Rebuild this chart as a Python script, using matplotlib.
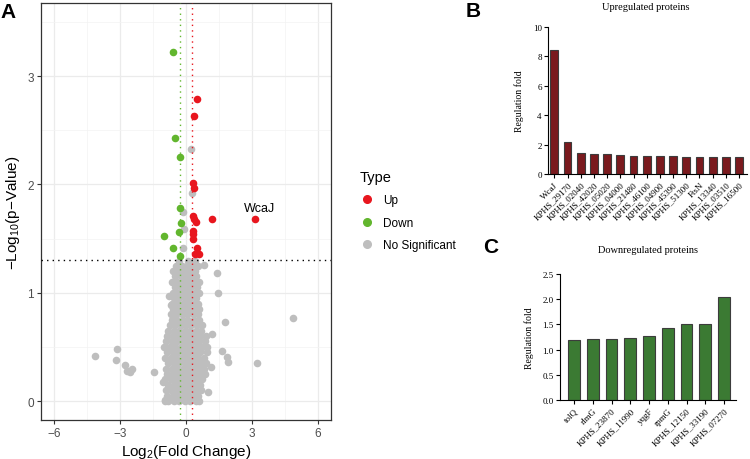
import numpy as np
import matplotlib
matplotlib.use('Agg')
import matplotlib.pyplot as plt
from matplotlib.lines import Line2D

plt.rcParams['font.family'] = ['Liberation Sans', 'DejaVu Sans']
plt.rcParams['mathtext.default'] = 'regular'

# Volcano: significant points
up_x = [0.48, 0.35, 0.32, 0.38, 0.32, 0.38, 0.45, 1.17, 3.12, 0.30, 0.30, 0.30, 0.52, 0.41, 0.58]
up_y = [2.79, 2.63, 2.01, 1.97, 1.71, 1.68, 1.65, 1.68, 1.68, 1.57, 1.54, 1.50, 1.41, 1.36, 1.36]
down_x = [-0.58, -0.50, -0.26, -0.26, -0.23, -0.32, -1.02, -0.58, -0.27]
down_y = [3.22, 2.43, 2.25, 1.78, 1.64, 1.56, 1.52, 1.41, 1.34]

# Volcano: non-significant outliers
ns_out_x = [0.21, 0.26, -0.15, -0.08, -0.15, 0.82, 1.41, 1.47, 1.79, 4.89, 1.18, 3.23, 1.89, 1.85,
            1.62, 1.15, 1.00, -4.12, -3.12, -3.20, -2.77, -2.70, -2.44, -2.55, -1.45, -0.76,
            -0.70, -0.60, -0.92, -1.06, -0.95, -0.80]
ns_out_y = [2.33, 1.92, 1.75, 1.59, 1.41, 1.26, 1.18, 1.00, 0.73, 0.77, 0.62, 0.35, 0.36, 0.41,
            0.46, 0.31, 0.08, 0.42, 0.48, 0.38, 0.33, 0.28, 0.30, 0.27, 0.27, 0.97,
            0.89, 0.77, 0.49, 0.18, 0.01, 0.01]

# Volcano: dense non-significant cloud, read row by row (y, x positions)
ns_rows = [
    (0.00, [-0.95, -0.8, -0.55, -0.3, -0.05, 0.2, 0.45, 0.6]),
    (0.05, [-0.85, -0.6, -0.35, -0.1, 0.15, 0.4, 0.55]),
    (0.10, [-0.9, -0.7, -0.45, -0.2, 0.05, 0.3, 0.55, 0.7]),
    (0.15, [-0.8, -0.55, -0.3, -0.05, 0.2, 0.45, 0.65]),
    (0.20, [-0.95, -0.7, -0.45, -0.2, 0.05, 0.3, 0.55, 0.75]),
    (0.25, [-0.85, -0.6, -0.35, -0.1, 0.15, 0.4, 0.65, 0.85]),
    (0.30, [-0.9, -0.65, -0.4, -0.15, 0.1, 0.35, 0.6, 0.8]),
    (0.35, [-0.8, -0.55, -0.3, -0.05, 0.2, 0.45, 0.7, 0.9]),
    (0.40, [-0.95, -0.7, -0.45, -0.2, 0.05, 0.3, 0.55, 0.8]),
    (0.45, [-0.85, -0.6, -0.35, -0.1, 0.15, 0.4, 0.65, 0.95]),
    (0.50, [-1.0, -0.75, -0.5, -0.25, 0.0, 0.25, 0.5, 0.75, 0.95]),
    (0.55, [-0.9, -0.65, -0.4, -0.15, 0.1, 0.35, 0.6, 0.85]),
    (0.60, [-0.85, -0.6, -0.35, -0.1, 0.15, 0.4, 0.65, 0.9]),
    (0.65, [-0.8, -0.55, -0.3, -0.05, 0.2, 0.45, 0.7]),
    (0.70, [-0.75, -0.5, -0.25, 0.0, 0.25, 0.5, 0.75]),
    (0.75, [-0.65, -0.4, -0.15, 0.1, 0.35, 0.6]),
    (0.80, [-0.7, -0.45, -0.2, 0.05, 0.3, 0.55]),
    (0.85, [-0.6, -0.35, -0.1, 0.15, 0.4, 0.6]),
    (0.90, [-0.65, -0.4, -0.15, 0.1, 0.35, 0.55]),
    (0.95, [-0.55, -0.3, -0.05, 0.2, 0.45]),
    (1.00, [-0.6, -0.35, -0.1, 0.15, 0.4, 0.6]),
    (1.05, [-0.5, -0.25, 0.0, 0.25, 0.5]),
    (1.10, [-0.65, -0.4, -0.15, 0.1, 0.35, 0.6]),
    (1.15, [-0.5, -0.25, 0.0, 0.25, 0.45]),
    (1.20, [-0.6, -0.35, -0.1, 0.15, 0.4]),
    (1.25, [-0.45, -0.2, 0.05, 0.3, 0.55]),
    (1.29, [-0.3, 0.1, 0.4]),
]

# Bar panels
up_names = ['WcaJ', 'KPHS_29170', 'KPHS_02040', 'KPHS_42020', 'KPHS_05020', 'KPHS_04000',
            'KPHS_21480', 'KPHS_46100', 'KPHS_04900', 'KPHS_45390', 'KPHS_51300', 'FtsN',
            'KPHS_13340', 'KPHS_03510', 'KPHS_16500']
up_fold = [8.42, 2.17, 1.40, 1.36, 1.35, 1.29, 1.24, 1.22, 1.22, 1.20, 1.18, 1.18, 1.18, 1.18, 1.18]
down_names = ['tolQ', 'rlmG', 'KPHS_23870', 'KPHS_11990', 'yqgF', 'rpmG', 'KPHS_12150',
              'KPHS_33190', 'KPHS_07270']
down_fold = [1.20, 1.21, 1.22, 1.23, 1.27, 1.42, 1.51, 1.51, 2.05]

RED = '#E8161E'
GREEN = '#62B62E'
GRAY = '#BEBEBE'

fig = plt.figure(figsize=(7.5, 4.6), dpi=100)

# ---------------- Panel A ----------------
ax = fig.add_axes([41 / 750, 39 / 460, 290 / 750, 417 / 460])
ns_x = [x for y, xs in ns_rows for x in xs] + ns_out_x
ns_y = [y for y, xs in ns_rows for x in xs] + ns_out_y
ms = 30
ax.scatter(ns_x, ns_y, s=ms, color=GRAY, linewidths=0, zorder=3)
ax.scatter(down_x, down_y, s=ms, color=GREEN, linewidths=0, zorder=4)
ax.scatter(up_x, up_y, s=ms, color=RED, linewidths=0, zorder=4)
ax.axvline(-0.263, color=GREEN, lw=1.0, ls=(0, (1, 3)), zorder=5)
ax.axvline(0.263, color=RED, lw=1.0, ls=(0, (1, 3)), zorder=5)
ax.axhline(1.301, color='black', lw=1.0, ls=(0, (1, 3)), zorder=5)
ax.text(3.37, 1.73, 'WcaJ', ha='center', va='bottom', fontsize=9, zorder=6)

ax.set_xlim(-6.6, 6.6)
ax.set_ylim(-0.175, 3.675)
ax.set_xticks([-6, -3, 0, 3, 6])
ax.set_yticks([0, 1, 2, 3])
ax.set_xticks([-4.5, -1.5, 1.5, 4.5], minor=True)
ax.set_yticks([0.5, 1.5, 2.5, 3.5], minor=True)
ax.grid(which='major', color='#EBEBEB', lw=0.9, zorder=0)
ax.grid(which='minor', color='#F3F3F3', lw=0.5, zorder=0)
ax.tick_params(which='minor', length=0)
ax.tick_params(which='major', length=3, width=0.8, color='#333333',
               labelsize=8.5, labelcolor='#4D4D4D', pad=2)
ax.set_axisbelow(True)
for s in ax.spines.values():
    s.set_color('#333333')
    s.set_linewidth(0.9)
ax.set_xlabel('Log$_2$(Fold Change)', fontsize=11, labelpad=2)
ax.set_ylabel('$-$Log$_{10}$(p$-$Value)', fontsize=11, labelpad=4)

fig.text(0.0, 1 - 3 / 460, 'A', fontsize=15, fontweight='bold', va='top', ha='left')

# Legend
handles = [Line2D([], [], marker='o', ls='', color=c, markersize=5.5)
           for c in (RED, GREEN, GRAY)]
leg = fig.legend(handles, ['Up', 'Down', 'No Significant'], title='Type',
                 loc='upper left', bbox_to_anchor=(349 / 750, 1 - 160 / 460),
                 frameon=False, fontsize=8.5, title_fontsize=10.5,
                 handletextpad=0.8, labelspacing=0.9, alignment='left',
                 handlelength=1.2)

# ---------------- Panel B ----------------
serif = ['Liberation Serif', 'DejaVu Serif']
axb = fig.add_axes([548 / 750, 285 / 460, 199 / 750, 147 / 460])
xb = np.arange(len(up_names))
axb.bar(xb, up_fold, width=0.6, color='#7A1A1E', edgecolor='#3C3C3C', linewidth=0.8)
axb.set_xlim(-0.48, 14.6)
axb.set_ylim(0, 10)
axb.set_yticks([0, 2, 4, 6, 8, 10])
axb.set_xticks(xb)
axb.set_xticklabels(up_names, rotation=45, ha='right', rotation_mode='anchor',
                    fontsize=6.5, family=serif)
for lab in axb.get_yticklabels():
    lab.set_family(serif)
axb.tick_params(labelsize=6.5, length=3, width=0.8, pad=1.5)
axb.spines['top'].set_visible(False)
axb.spines['right'].set_visible(False)
axb.set_ylabel('Regulation fold', fontsize=7, family=serif, labelpad=6)
fig.text(646 / 750, 1 - 7 / 460, 'Upregulated proteins', fontsize=7.5, family=serif,
         ha='center', va='center')
fig.text(466 / 750, 1 - 2 / 460, 'B', fontsize=15, fontweight='bold', va='top', ha='left')

# ---------------- Panel C ----------------
axc = fig.add_axes([560 / 750, 59 / 460, 176 / 750, 126 / 460])
xc = np.arange(len(down_names))
axc.bar(xc, down_fold, width=0.62, color='#3B7A33', edgecolor='#3C3C3C', linewidth=0.8)
axc.set_xlim(-0.75, 8.64)
axc.set_ylim(0, 2.5)
axc.set_yticks([0.0, 0.5, 1.0, 1.5, 2.0, 2.5])
axc.set_yticklabels(['0.0', '0.5', '1.0', '1.5', '2.0', '2.5'], family=serif)
axc.set_xticks(xc)
axc.set_xticklabels(down_names, rotation=45, ha='right', rotation_mode='anchor',
                    fontsize=6.5, family=serif)
axc.tick_params(labelsize=6.5, length=3, width=0.8, pad=1.5)
axc.spines['top'].set_visible(False)
axc.spines['right'].set_visible(False)
axc.set_ylabel('Regulation fold', fontsize=7, family=serif, labelpad=6)
fig.text(648 / 750, 1 - 251 / 460, 'Downregulated proteins', fontsize=7.5, family=serif,
         ha='center', va='center')
fig.text(483 / 750, 1 - 238 / 460, 'C', fontsize=15, fontweight='bold', va='top', ha='left')

fig.savefig('out.png', dpi=100)
